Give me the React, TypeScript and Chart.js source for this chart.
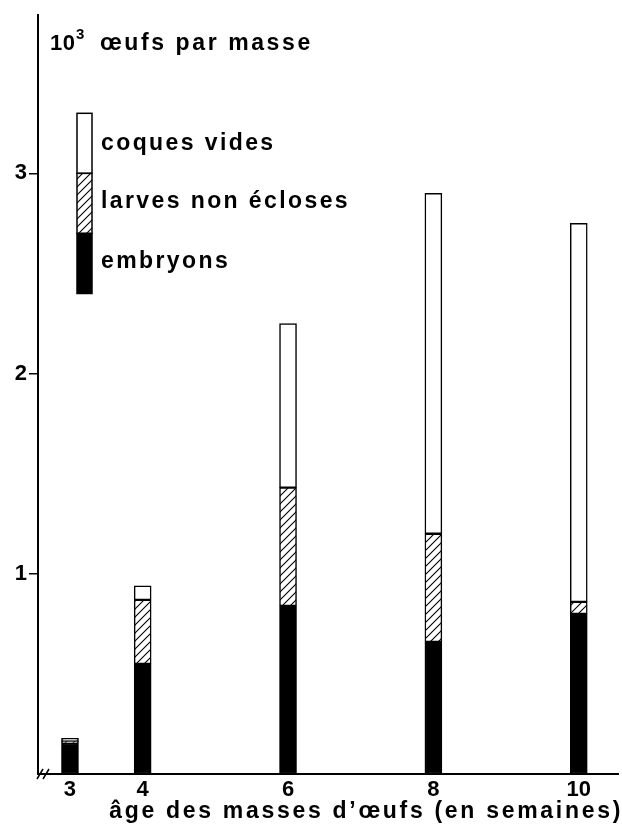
import React, { useEffect, useRef } from "react";
import { Chart, registerables } from "chart.js";

Chart.register(...registerables);

// ---- data (10^3 eggs per mass) ----
const weeks = [3, 4, 6, 8, 10];
const embryons = [0.155, 0.55, 0.84, 0.66, 0.8];
const larvesNonEcloses = [0.008, 0.32, 0.59, 0.54, 0.06];
const coquesVides = [0.015, 0.07, 0.82, 1.7, 1.89];
const yTickValues = [1, 2, 3];
const xTickValues = [3, 4, 6, 8, 10];
const legendLabels = ["coques vides", "larves non écloses", "embryons"];
const yTitle = "œufs par masse";
const xTitle = "âge des masses d\u2019œufs (en semaines)";

const FONT = "'Liberation Sans', Arial, Helvetica, sans-serif";

function makeHatch(): CanvasPattern | string {
  const c = document.createElement("canvas");
  c.width = 8;
  c.height = 8;
  const g = c.getContext("2d");
  if (!g) return "#888";
  g.fillStyle = "#fff";
  g.fillRect(0, 0, 8, 8);
  g.strokeStyle = "#000";
  g.lineWidth = 1.1;
  g.beginPath();
  g.moveTo(-2, 10);
  g.lineTo(10, -2);
  g.moveTo(-2, 2);
  g.lineTo(2, -2);
  g.moveTo(6, 10);
  g.lineTo(10, 6);
  g.stroke();
  const p = g.createPattern(c, "repeat");
  return p || "#888";
}

export default function App() {
  const ref = useRef<HTMLCanvasElement | null>(null);

  useEffect(() => {
    if (!ref.current) return;
    const hatch = makeHatch();
    const pts = (arr: number[]) => arr.map((v, i) => ({ x: weeks[i], y: v }));

    const decor = {
      id: "decor",
      afterDraw(chart: any) {
        const ctx = chart.ctx as CanvasRenderingContext2D;
        const area = chart.chartArea;
        const ys = chart.scales.y;
        ctx.save();
        ctx.fillStyle = "#000";
        ctx.textBaseline = "alphabetic";
        ctx.textAlign = "left";
        // y title
        (ctx as any).letterSpacing = "0.5px";
        ctx.font = `bold 22px ${FONT}`;
        ctx.fillText("10", area.left + 12, 50);
        ctx.font = `bold 15px ${FONT}`;
        ctx.fillText("3", area.left + 38, 39);
        ctx.font = `bold 23px ${FONT}`;
        (ctx as any).letterSpacing = "2.6px";
        ctx.fillText(yTitle, area.left + 62, 50);

        // legend bar
        const lx = area.left + 39;
        const lw = 15;
        const segs = [
          { lo: 3.0, hi: 3.3, fill: "#fff" as any },
          { lo: 2.7, hi: 3.0, fill: hatch as any },
          { lo: 2.4, hi: 2.7, fill: "#000" as any },
        ];
        ctx.lineWidth = 1.5;
        ctx.strokeStyle = "#000";
        segs.forEach((s) => {
          const top = ys.getPixelForValue(s.hi);
          const bot = ys.getPixelForValue(s.lo);
          ctx.fillStyle = s.fill;
          ctx.fillRect(lx, top, lw, bot - top);
          ctx.strokeRect(lx, top, lw, bot - top);
        });
        ctx.fillStyle = "#000";
        ctx.font = `bold 23px ${FONT}`;
        (ctx as any).letterSpacing = "2.4px";
        const labY = [150, 208, 268];
        legendLabels.forEach((t, i) => ctx.fillText(t, area.left + 63, labY[i]));

        // x title
        (ctx as any).letterSpacing = "2.7px";
        ctx.textAlign = "right";
        ctx.fillText(xTitle, area.right + 5, 818);

        // axis break mark
        ctx.lineWidth = 1.5;
        ctx.beginPath();
        ctx.moveTo(area.left - 1, area.bottom + 5);
        ctx.lineTo(area.left + 5, area.bottom - 5);
        ctx.moveTo(area.left + 5, area.bottom + 5);
        ctx.lineTo(area.left + 11, area.bottom - 5);
        ctx.stroke();
        ctx.restore();
      },
    };

    const ds = (label: string, data: number[], bg: any) => ({
      label,
      data: pts(data),
      backgroundColor: bg,
      borderColor: "#000",
      borderWidth: 1.5,
      borderSkipped: false,
      barThickness: 17,
    });

    const chart = new Chart(ref.current, {
      type: "bar",
      data: {
        datasets: [
          ds(legendLabels[2], embryons, "#000"),
          ds(legendLabels[1], larvesNonEcloses, hatch),
          ds(legendLabels[0], coquesVides, "#fff"),
        ],
      },
      options: {
        animation: false,
        responsive: true,
        maintainAspectRatio: false,
        layout: { padding: { top: 12, right: 4, left: 0, bottom: 0 } },
        plugins: { legend: { display: false }, tooltip: { enabled: false } },
        scales: {
          x: {
            type: "linear",
            stacked: true,
            offset: false,
            min: 2.56,
            max: 10.54,
            afterBuildTicks: (s: any) => {
              s.ticks = xTickValues.map((v) => ({ value: v }));
            },
            afterFit: (s: any) => {
              s.height = 52;
            },
            ticks: {
              color: "#000",
              padding: 3,
              font: { family: FONT, size: 22, weight: "bold" },
              maxRotation: 0,
              autoSkip: false,
            },
            grid: { display: false, drawTicks: false },
            border: { display: true, color: "#000", width: 2 },
          },
          y: {
            type: "linear",
            stacked: true,
            min: 0,
            max: 3.79,
            afterBuildTicks: (s: any) => {
              s.ticks = yTickValues.map((v) => ({ value: v }));
            },
            afterFit: (s: any) => {
              s.width = 38;
            },
            ticks: {
              color: "#000",
              padding: 2,
              font: { family: FONT, size: 22, weight: "bold" },
            },
            grid: {
              display: true,
              drawOnChartArea: false,
              drawTicks: true,
              tickLength: 9,
              color: "#000",
              lineWidth: 1.5,
            },
            border: { display: true, color: "#000", width: 2 },
          },
        },
      },
      plugins: [decor],
    } as any);

    return () => chart.destroy();
  }, []);

  return (
    <div style={{ position: "absolute", left: 0, top: 0, width: 622, height: 826, background: "#fff" }}>
      <canvas ref={ref} />
    </div>
  );
}
